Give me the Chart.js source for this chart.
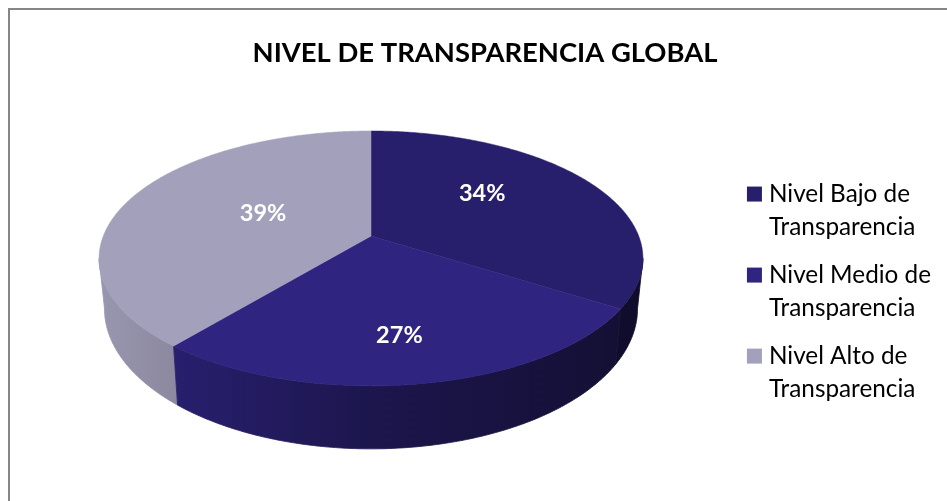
<!DOCTYPE html>
<html><head><meta charset="utf-8">
<style>html,body{margin:0;padding:0;background:#fff}#w{position:absolute;left:0;top:0;width:947px;height:501px}</style>
<script src="https://cdn.jsdelivr.net/npm/chart.js@4"></script>
</head><body><div id="w"><canvas id="c" width="947" height="501"></canvas></div>
<script>
const titleText = 'NIVEL DE TRANSPARENCIA GLOBAL';
const categories = [['Nivel Bajo de','Transparencia'],['Nivel Medio de','Transparencia'],['Nivel Alto de','Transparencia']];
const shares = [34, 27, 39];
const sliceColors = ['#271F6C', '#2F2580', '#A3A0BB'];

const view = {cx:371, cy:236, A:267.7, B:123.5, k:0.176, sx:0.98, sy:1.1, dy:48, x0:99, x1:643};
const labelPlace = [{f:.48,dx:3,dy:-15},{f:.7,dx:-5,dy:2},{f:.44,dx:0,dy:-5}];
const shadeStops = [[0,.94],[.14,.85],[.5,.6],[.92,.42],[1,.4]];
function project(a, low){
  const u=Math.sin(a), v=-Math.cos(a), w=1-view.k*v;
  const X=view.A*u/w, Y=view.B*v/w;
  return low ? [view.cx+X*view.sx, view.cy+view.dy+Y*view.sy] : [view.cx+X, view.cy+Y];
}
function hexShade(hex,f){
  const n=parseInt(hex.slice(1),16);
  return `rgb(${Math.round((n>>16)*f)},${Math.round(((n>>8)&255)*f)},${Math.round((n&255)*f)})`;
}
function rim(ctx,s,e,low,first){
  const n=Math.ceil(Math.abs(e-s)/0.01);
  for(let j=0;j<=n;j++){const p=project(s+(e-s)*j/n,low); if(first&&j===0)ctx.moveTo(p[0],p[1]); else ctx.lineTo(p[0],p[1]);}
}
const pie3d = {
  id:'pie3d',
  beforeDraw(chart){
    const ctx=chart.ctx;
    ctx.save();ctx.strokeStyle='#868686';ctx.lineWidth=2;
    ctx.beginPath();ctx.moveTo(9,501);ctx.lineTo(9,9);ctx.lineTo(947,9);ctx.stroke();ctx.restore();
  },
  beforeDatasetsDraw(chart){
    const ctx=chart.ctx, arcs=chart.getDatasetMeta(0).data;
    const tan=Math.acos(-view.k), lo=tan, hi=2*Math.PI-tan;
    ctx.save();
    [0,2,1].forEach(i=>{
      const arc=arcs[i];
      const s=Math.max(arc.startAngle+Math.PI/2,lo), e=Math.min(arc.endAngle+Math.PI/2,hi);
      if(e<=s) return;
      const g=ctx.createLinearGradient(view.x0,0,view.x1,0);
      shadeStops.forEach(([t,f])=>g.addColorStop(t,hexShade(sliceColors[i],f)));
      ctx.fillStyle=g;ctx.strokeStyle=g;ctx.lineWidth=0.8;
      ctx.beginPath();rim(ctx,s,e,false,true);rim(ctx,e,s,true,false);ctx.closePath();ctx.fill();ctx.stroke();
    });
    arcs.forEach((arc,i)=>{
      const s=arc.startAngle+Math.PI/2, e=arc.endAngle+Math.PI/2;
      ctx.fillStyle=sliceColors[i];ctx.strokeStyle=sliceColors[i];ctx.lineWidth=0.5;
      ctx.beginPath();ctx.moveTo(view.cx,view.cy);rim(ctx,s,e,false,false);ctx.closePath();ctx.fill();ctx.stroke();
    });
    ctx.restore();
    return false;
  },
  afterDraw(chart){
    const ctx=chart.ctx, arcs=chart.getDatasetMeta(0).data;
    ctx.save();
    ctx.fillStyle='#fff';ctx.font='bold 23.5px Lato';ctx.textAlign='center';ctx.textBaseline='middle';
    arcs.forEach((arc,i)=>{
      const m=(arc.startAngle+arc.endAngle)/2+Math.PI/2, f=labelPlace[i].f;
      const u=Math.sin(m),v=-Math.cos(m),w=1-view.k*v*f;
      ctx.fillText(shares[i]+'%',view.cx+view.A*f*u/w+labelPlace[i].dx,view.cy+view.B*f*v/w+labelPlace[i].dy);
    });
    ctx.restore();
  }
};
new Chart(document.getElementById('c'),{
  type:'pie',
  data:{labels:categories,datasets:[{data:shares,backgroundColor:sliceColors,borderWidth:0}]},
  plugins:[pie3d],
  options:{
    responsive:false,animation:false,
    layout:{padding:{top:0,right:6,bottom:0,left:29}},
    plugins:{
      title:{display:true,text:titleText,color:'#000',font:{family:'Lato',size:27.4,weight:'bold'},padding:{top:37,bottom:22}},
      tooltip:{enabled:false},
      legend:{display:true,position:'right',align:'center',fullSize:false,
        labels:{boxWidth:4.7,boxHeight:4.7,color:'#111',padding:14,font:{family:'Lato',size:24.3,lineHeight:1.379},
          generateLabels(chart){
            return categories.map((t,i)=>({text:t,fillStyle:sliceColors[i],strokeStyle:sliceColors[i],lineWidth:10.3,index:i,hidden:false}));
          }}}
    }
  }
});
</script></body></html>
